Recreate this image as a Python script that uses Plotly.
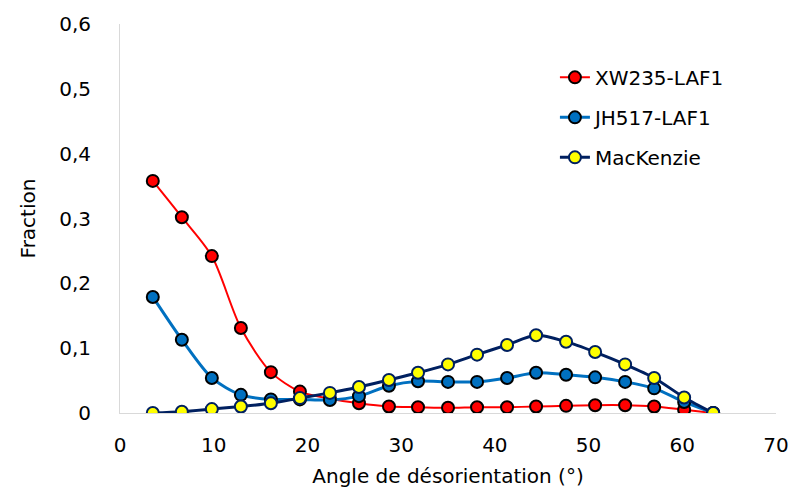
import plotly.graph_objects as go

angles = [3.5, 6.6, 9.8, 12.9, 16.1, 19.2, 22.4, 25.5, 28.7, 31.8,
          35.0, 38.1, 41.3, 44.4, 47.6, 50.7, 53.9, 57.0, 60.2, 63.3]
xw235 = [0.358, 0.302, 0.242, 0.131, 0.063, 0.033, 0.022, 0.015, 0.010, 0.009,
         0.008, 0.009, 0.009, 0.010, 0.011, 0.012, 0.012, 0.010, 0.005, 0.0]
jh517 = [0.179, 0.113, 0.054, 0.028, 0.021, 0.021, 0.020, 0.026, 0.042, 0.049,
         0.048, 0.048, 0.054, 0.062, 0.059, 0.055, 0.048, 0.038, 0.017, 0.0]
mackenzie = [0.0, 0.002, 0.006, 0.010, 0.015, 0.023, 0.031, 0.040, 0.051, 0.062,
             0.075, 0.090, 0.105, 0.120, 0.110, 0.094, 0.075, 0.054, 0.024, 0.0]

series = [
    ("XW235-LAF1", xw235, "#FF0000", 2, "#FF0000", "#000000"),
    ("JH517-LAF1", jh517, "#0070C0", 3, "#0070C0", "#000000"),
    ("MacKenzie", mackenzie, "#002060", 3, "#FFFF00", "#002060"),
]

fig = go.Figure()
for i, (name, vals, lc, lw, mc, mlc) in enumerate(series):
    fig.add_trace(go.Scatter(
        x=angles, y=vals, name=name, mode="lines+markers",
        line=dict(color=lc, width=lw, shape="spline", smoothing=0.8),
        marker=dict(size=12, color=mc, line=dict(color=mlc, width=2)),
        legendgroup=f"g{i}",
    ))

font = "DejaVu Sans, sans-serif"
fig.update_layout(
    width=793, height=491,
    margin=dict(l=120, r=17, t=24, b=78, autoexpand=False),
    paper_bgcolor="white", plot_bgcolor="white",
    separators=", ",
    font=dict(family=font, size=20, color="#000000"),
    showlegend=True,
    legend=dict(x=0.663, y=0.913, xanchor="left", yanchor="top",
                font=dict(size=20), tracegroupgap=11, bgcolor="rgba(0,0,0,0)",
                itemwidth=30),
    xaxis=dict(range=[0, 70], dtick=10, tick0=0, showgrid=False, zeroline=False,
               showline=True, linecolor="#D9D9D9", linewidth=1, automargin=False,
               ticks="", ticklabelstandoff=14,
               title=dict(text="Angle de désorientation (°)", standoff=12,
                          font=dict(size=20))),
    yaxis=dict(range=[0, 0.6], dtick=0.1, tick0=0, showgrid=False, zeroline=False,
               showline=True, linecolor="#D9D9D9", linewidth=1, automargin=False,
               ticks="", ticklabelstandoff=24,
               title=dict(text="Fraction", standoff=18, font=dict(size=20))),
)

fig.write_html("out.html", config={"displayModeBar": False},
               post_script="document.body.style.margin='0';document.body.style.padding='0';")
